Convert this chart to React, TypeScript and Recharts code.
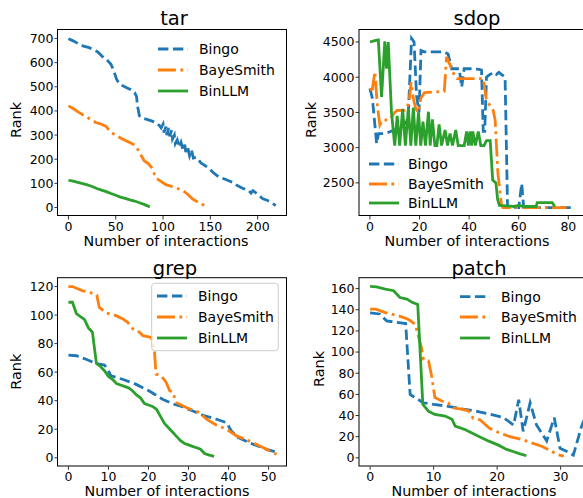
import React from 'react';
import { LineChart, Line, XAxis, YAxis } from 'recharts';

type Pt = [number, number];

// ---- tar ----
const tarBingo: Pt[] = [
  [0, 699], [5, 690], [11.5, 676], [16, 668], [22, 662], [27, 652], [31, 644], [36, 625],
  [40, 614], [45, 593], [48.5, 559], [51, 530], [54, 511], [58, 503], [61, 497], [66, 488],
  [70, 476], [72, 460], [73, 421], [75, 380], [78, 370], [82, 366], [87, 360], [92.6, 352],
  [96, 340], [98, 330], [100, 345], [101, 310], [103, 335], [104, 300], [106, 330], [107, 295],
  [109, 320], [110, 284], [112, 300], [113, 265], [115, 280], [117, 250], [119, 270], [121, 240],
  [123, 260], [124, 230], [126, 250], [128, 215], [130, 240], [132, 205], [135, 208], [138, 195],
  [140, 185], [142, 180], [145, 172], [149, 160], [153, 145], [156, 135], [160, 125], [165, 118],
  [170, 110], [174, 104], [178, 92], [184, 80], [190, 72], [193, 60], [195, 70], [200, 55],
  [205.5, 36], [210, 30], [215, 20], [219, 8],
];
const tarBaye: Pt[] = [
  [0, 421], [5, 410], [11, 394], [20, 373], [29, 352], [35, 345], [40, 335], [45, 311],
  [57, 284], [68, 263], [72, 250], [75, 229], [80, 194], [85, 180], [89, 160], [92, 125],
  [97, 110], [103, 95], [112, 84], [121, 70], [126, 55], [131, 36], [138, 20], [147, 2],
];
const tarBinLLM: Pt[] = [
  [0, 113], [5, 109], [10, 104], [15, 99], [20, 94], [25, 87], [30, 79], [35, 72], [40, 66],
  [45, 58], [50, 51], [55, 43], [60, 38], [65, 32], [70, 27], [75, 20], [80, 13], [83, 8], [86, 2],
];

// ---- sdop ----
const sdopBingo: Pt[] = [
  [0, 3840], [1, 3700], [2.7, 3060], [3.5, 3200], [5, 3200], [7, 3210], [9, 3240], [10, 3250],
  [11.4, 3290], [13, 3300], [14.8, 3370], [15.5, 3500], [16.8, 4550], [17.8, 4500], [18.8, 3740],
  [19.8, 3500], [20.6, 4380], [22, 4360], [26, 4360], [30, 4360], [31.5, 4330], [33, 4120],
  [36, 4120], [37, 3860], [38, 4120], [41, 4120], [44, 4110], [45, 4100], [45.7, 3230],
  [46.3, 3230], [47, 4000], [48, 4030], [50, 4070], [51, 4040], [52, 4070], [53, 4040],
  [54.5, 4000], [55.5, 2150], [60, 2150], [61.2, 2490], [62, 2150], [70, 2150], [82.7, 2150],
];
const sdopBaye: Pt[] = [
  [0, 3825], [1, 3830], [2, 4080], [3, 3600], [4, 3320], [5, 3390], [6, 3390], [8, 3400],
  [10, 3500], [11, 3530], [14, 3530], [15, 3560], [16, 3720], [16.6, 3930], [17.5, 3700],
  [18.5, 3550], [19.5, 3500], [20.5, 3700], [22, 3780], [26, 3790], [30, 3800], [30.9, 4290],
  [32, 4200], [34, 4030], [35, 3980], [45.7, 3980], [47, 3670], [49.7, 3530], [50.5, 3390],
  [51.6, 2640], [53, 2200], [53.6, 2150], [79.3, 2150],
];
const sdopBinLLM: Pt[] = [
  [0, 4500], [2, 4520], [3.4, 4530], [4.7, 3720], [6, 4510], [6.7, 4120], [7.4, 4500],
  [8.7, 3500], [10, 3030], [11, 3450], [12, 3030], [13.2, 3550], [14.3, 3030], [15.5, 3555],
  [16.5, 3030], [17.5, 3570], [18.5, 3030], [19.6, 3500], [20.5, 3030], [21.4, 3370],
  [22.4, 3030], [23.6, 3510], [24.3, 3030], [25.2, 3400], [26.2, 3030], [27, 3030],
  [27.9, 3330], [28.9, 3030], [30.3, 3250], [31.3, 3030], [32.3, 3200], [33.3, 3030],
  [34.6, 3250], [35.6, 3030], [38, 3030], [39, 3230], [39.7, 3030], [40.4, 3230], [41, 3030],
  [41.5, 3230], [42.5, 3030], [43.7, 3230], [44.7, 3030], [46, 3030], [47, 3100], [48.5, 3100],
  [49.5, 2540], [50.8, 2500], [51.5, 2265], [52.2, 2180], [55, 2175], [58, 2165], [60, 2180],
  [62, 2165], [67, 2165], [67.5, 2220], [73.5, 2220], [74.5, 2165],
];

// ---- grep ----
const grepBingo: Pt[] = [
  [0, 72], [2, 71.5], [4.4, 69], [6.9, 66], [9, 65], [9.8, 62], [10.6, 57.5], [13.5, 55],
  [16.8, 51.6], [20.1, 47], [23.5, 41], [26.4, 37.5], [27.8, 36.4], [31.1, 32.8], [33.6, 29.8],
  [37, 27], [39.5, 24.6], [40.7, 18.8], [42.4, 14.1], [46.2, 9.4], [49.5, 5.9], [52, 4],
];
const grepBaye: Pt[] = [
  [0, 120], [1, 120], [3.6, 117], [6.5, 115], [7.1, 114], [7.7, 105.5], [9.4, 101.5],
  [11.9, 99.6], [13.6, 97.3], [14.8, 95], [16.1, 90.3], [17.3, 89], [18.6, 85.6], [20.7, 84.4],
  [21.5, 74], [21.9, 58.6], [23.1, 57.5], [24.4, 53], [25.3, 47], [26.1, 46], [26.9, 38.7],
  [29.4, 35.2], [32.8, 31.6], [34.5, 27], [37, 22.8], [39.5, 20], [42, 15.3], [46.2, 10.5],
  [49.5, 5.9], [52, 2.4],
];
const grepBinLLM: Pt[] = [
  [0, 109], [1, 109], [2, 101], [3, 99], [4, 97], [5, 91], [6, 88], [7, 66], [8, 64], [9, 61],
  [10, 57], [11, 55], [12, 52], [13, 51], [14, 50], [15, 49], [16, 47], [17, 44], [18, 42],
  [19, 38], [20, 37], [21, 36], [22, 34], [23, 29], [24, 24], [25, 21], [26, 18], [27, 15],
  [28, 12], [29, 10], [30, 9], [31, 8], [32, 7], [33, 6], [34, 3], [35, 2], [36.4, 1],
];

// ---- patch ----
const patchBingo: Pt[] = [
  [0, 137], [1.5, 136], [2.6, 129.5], [4.2, 128], [5.6, 127], [6.3, 60], [6.8, 58], [8.4, 52],
  [10, 50.5], [12, 49], [14.7, 46], [16.8, 44], [19, 41], [21, 38], [22.6, 31], [23.4, 55],
  [24.1, 25], [25.2, 52], [26.2, 31], [27.8, 16], [29, 38], [29.9, 9], [31, 6], [32, 2.5],
  [33.3, 30], [35, 55],
];
const patchBaye: Pt[] = [
  [0, 140.5], [0.9, 140.5], [2.4, 137.3], [4.5, 134.2], [6, 131], [7.1, 126.3], [7.6, 115],
  [8.1, 104], [8.4, 93], [9.2, 91.7], [9.7, 77], [10.2, 57], [11.3, 53.7], [12.3, 52],
  [12.9, 47.4], [14.4, 46], [15.5, 44.5], [16.2, 37.5], [17.3, 36], [18.8, 28], [20.2, 24],
  [22, 20], [24.1, 17], [25.2, 14.5], [27, 11], [28.5, 6.5], [29.5, 3], [30.5, 1.5],
];
const patchBinLLM: Pt[] = [
  [0, 162], [1, 161.6], [2.4, 159.5], [3.7, 158], [4.7, 151.5], [5.8, 150], [6.6, 147],
  [7.5, 145], [8.3, 50.6], [9.2, 44], [10.2, 41], [11.8, 39.5], [12.9, 36.4], [13.4, 30],
  [15, 26.5], [16.5, 22], [18.6, 16], [20.2, 12], [21.5, 8], [22.5, 6], [23.5, 4], [24.6, 2],
];

const seriesNames = ['Bingo', 'BayeSmith', 'BinLLM'];
const seriesColors = ['#1f77b4', '#ff7f0e', '#2ca02c'];
const seriesDash = ['10.4 4.5', '17.9 4.5 2.8 4.5', undefined];

const FONT = "'DejaVu Sans', sans-serif";
const LW = 2.8;
const PAD_L = 50;
const PAD_T = 5;
const PAD_R = 5;
const PAD_B = 30;

type Box = { x0: number; y0: number; x1: number; y1: number };

interface PanelDef {
  title: string;
  box: Box;
  xDomain: [number, number];
  yDomain: [number, number];
  xTicks: number[];
  yTicks: number[];
  series: Pt[][];
  titleX: number;
  titleY: number;
  xlabelX: number;
  xlabelY: number;
  ylabelX: number;
  ylabelY: number;
  legend: { lx: number; tx: number; rows: number[]; frame?: Box };
}

const panels: PanelDef[] = [
  {
    title: 'tar',
    box: { x0: 57.5, y0: 29.5, x1: 286.5, y1: 215.5 },
    xDomain: [-11, 231],
    yDomain: [-35, 735],
    xTicks: [0, 50, 100, 150, 200],
    yTicks: [0, 100, 200, 300, 400, 500, 600, 700],
    series: [tarBingo, tarBaye, tarBinLLM],
    titleX: 174, titleY: 25,
    xlabelX: 166, xlabelY: 246,
    ylabelX: 20.7, ylabelY: 120,
    legend: { lx: 158, tx: 199, rows: [49, 70, 91] },
  },
  {
    title: 'sdop',
    box: { x0: 359, y0: 29.5, x1: 585.7, y1: 215.5 },
    xDomain: [-4.4, 87],
    yDomain: [2030, 4670],
    xTicks: [0, 20, 40, 60, 80],
    yTicks: [2500, 3000, 3500, 4000, 4500],
    series: [sdopBingo, sdopBaye, sdopBinLLM],
    titleX: 477, titleY: 25,
    xlabelX: 467, xlabelY: 246,
    ylabelX: 315.7, ylabelY: 120,
    legend: { lx: 369, tx: 408, rows: [164, 184, 203] },
  },
  {
    title: 'grep',
    box: { x0: 57.5, y0: 277.7, x1: 286.5, y1: 466 },
    xDomain: [-2.6, 54.6],
    yDomain: [-6, 126],
    xTicks: [0, 10, 20, 30, 40, 50],
    yTicks: [0, 20, 40, 60, 80, 100, 120],
    series: [grepBingo, grepBaye, grepBinLLM],
    titleX: 175, titleY: 275,
    xlabelX: 167, xlabelY: 496.3,
    ylabelX: 21.2, ylabelY: 371.7,
    legend: { lx: 157, tx: 198, rows: [296, 317, 338], frame: { x0: 151.7, y0: 283.3, x1: 278.3, y1: 350.7 } },
  },
  {
    title: 'patch',
    box: { x0: 359, y0: 277.7, x1: 603.5, y1: 466 },
    xDomain: [-1.75, 36.75],
    yDomain: [-8, 170],
    xTicks: [0, 10, 20, 30],
    yTicks: [0, 20, 40, 60, 80, 100, 120, 140, 160],
    series: [patchBingo, patchBaye, patchBinLLM],
    titleX: 479, titleY: 275,
    xlabelX: 474, xlabelY: 496.3,
    ylabelX: 324, ylabelY: 369,
    legend: { lx: 460, tx: 501, rows: [296.7, 317, 338] },
  },
];

const tickStyle = { fill: '#000', fontSize: 12.5, fontFamily: FONT };

function Panel({ p }: { p: PanelDef }) {
  const w = p.box.x1 - p.box.x0;
  const h = p.box.y1 - p.box.y0;
  return (
    <div style={{ position: 'absolute', left: p.box.x0 - PAD_L, top: p.box.y0 - PAD_T }}>
      <LineChart
        width={w + PAD_L + PAD_R}
        height={h + PAD_T + PAD_B}
        margin={{ top: PAD_T, right: PAD_R, bottom: 0, left: 0 }}
      >
        <XAxis
          type="number"
          dataKey="x"
          domain={p.xDomain}
          ticks={p.xTicks}
          interval={0}
          allowDataOverflow
          height={PAD_B}
          axisLine={false}
          tickSize={3.5}
          tickMargin={2.5}
          tickLine={{ stroke: '#000', strokeWidth: 0.8 }}
          tick={tickStyle}
        />
        <YAxis
          type="number"
          domain={p.yDomain}
          ticks={p.yTicks}
          interval={0}
          allowDataOverflow
          width={PAD_L}
          axisLine={false}
          tickSize={3.5}
          tickMargin={1}
          tickLine={{ stroke: '#000', strokeWidth: 0.8 }}
          tick={tickStyle}
        />
        {p.series.map((pts, i) => (
          <Line
            key={seriesNames[i]}
            data={pts.map(([x, y]) => ({ x, y }))}
            dataKey="y"
            type="linear"
            stroke={seriesColors[i]}
            strokeWidth={LW}
            strokeDasharray={seriesDash[i]}
            dot={false}
            activeDot={false}
            isAnimationActive={false}
          />
        ))}
      </LineChart>
    </div>
  );
}

function Overlay() {
  return (
    <svg
      width={583}
      height={498}
      style={{ position: 'absolute', left: 0, top: 0, pointerEvents: 'none' }}
      fontFamily={FONT}
    >
      {panels.map((p) => (
        <g key={p.title}>
          <rect
            x={p.box.x0}
            y={p.box.y0}
            width={p.box.x1 - p.box.x0}
            height={p.box.y1 - p.box.y0}
            fill="none"
            stroke="#000"
            strokeWidth={1}
          />
          <text x={p.titleX} y={p.titleY} textAnchor="middle" fontSize={19.5} fill="#000">
            {p.title}
          </text>
          <text x={p.xlabelX} y={p.xlabelY} textAnchor="middle" fontSize={14.3} fill="#000">
            Number of interactions
          </text>
          <text
            transform={`translate(${p.ylabelX},${p.ylabelY}) rotate(-90)`}
            textAnchor="middle"
            fontSize={14.5}
            fill="#000"
          >
            Rank
          </text>
          {p.legend.frame && (
            <rect
              x={p.legend.frame.x0}
              y={p.legend.frame.y0}
              width={p.legend.frame.x1 - p.legend.frame.x0}
              height={p.legend.frame.y1 - p.legend.frame.y0}
              rx={3}
              fill="#fff"
              fillOpacity={0.8}
              stroke="#cccccc"
              strokeWidth={1}
            />
          )}
          {seriesNames.map((name, i) => (
            <g key={name}>
              <line
                x1={p.legend.lx}
                x2={p.legend.lx + 30}
                y1={p.legend.rows[i]}
                y2={p.legend.rows[i]}
                stroke={seriesColors[i]}
                strokeWidth={LW}
                strokeDasharray={seriesDash[i]}
              />
              <text x={p.legend.tx} y={p.legend.rows[i] + 5} fontSize={14} fill="#000">
                {name}
              </text>
            </g>
          ))}
        </g>
      ))}
    </svg>
  );
}

export default function App() {
  return (
    <div
      style={{
        position: 'absolute',
        left: 0,
        top: 0,
        width: 583,
        height: 498,
        overflow: 'hidden',
        background: '#fff',
        fontFamily: FONT,
      }}
    >
      {panels.map((p) => (
        <Panel key={p.title} p={p} />
      ))}
      <Overlay />
    </div>
  );
}
